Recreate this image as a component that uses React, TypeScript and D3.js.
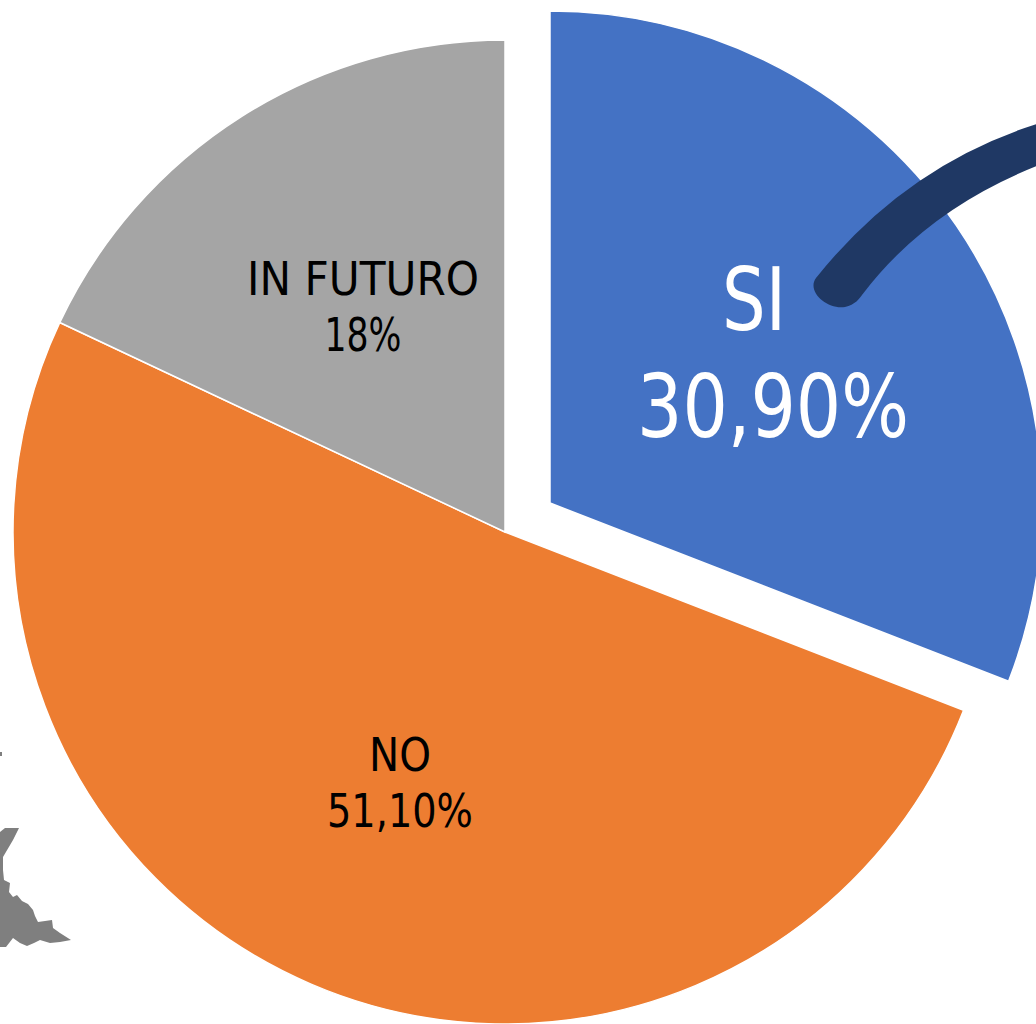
import React from "react";
import * as d3 from "d3";

const categories = ["SI", "NO", "IN FUTURO"];
const seriesValues = [30.9, 51.1, 18];
const valueLabels = ["30,90%", "51,10%", "18%"];
const colors = ["#4472C4", "#ED7D31", "#A5A5A5"];

const W = 1036, H = 1024;
const cx = 505, cy = 532, R = 492;
const explode = [[45, -29], [0, 0], [0, 0]];
const labelStyle = [
  { x: 754, y1: 330, x2: 773, y2: 437, size: 87, w1: 64, w2: 272, fill: "#fff" },
  { x: 400, y1: 771, x2: 400, y2: 827, size: 46, w1: 62, w2: 146, fill: "#000" },
  { x: 363, y1: 295, x2: 363, y2: 351, size: 46, w1: 232, w2: 77, fill: "#000" },
];

const blob: [number, number][] = [[0, 832], [5, 828], [19, 828], [13, 840], [3, 857], [3, 870], [4, 880], [10, 883], [9, 892], [13, 897], [17, 895], [22, 901], [28, 904], [33, 910], [35, 916], [38, 922], [45, 921], [52, 920], [53, 928], [60, 933], [71, 940], [60, 942], [50, 943], [40, 940], [34, 943], [27, 946], [20, 943], [13, 938], [6, 947], [0, 947]];

function armPath() {
  const p = d3.path();
  p.moveTo(1050, 120);
  p.quadraticCurveTo(910, 160, 816, 278);
  p.bezierCurveTo(806, 292, 828, 310, 845, 307);
  p.bezierCurveTo(855, 305, 860, 298, 862, 295);
  p.quadraticCurveTo(930, 205, 1050, 161);
  p.closePath();
  return p.toString();
}

export default function App() {
  const pie = d3.pie<number>().sort(null).startAngle(0).endAngle(2 * Math.PI);
  const arc = d3.arc<d3.PieArcDatum<number>>().innerRadius(0).outerRadius(R);
  const arcs = pie(seriesValues);
  const font = "'DejaVu Sans', sans-serif";
  return (
    <svg width={W} height={H} viewBox={`0 0 ${W} ${H}`} style={{ position: "fixed", left: 0, top: 0, background: "#fff" }}>
      <path d={d3.line()(blob) + "Z"} fill="#7F7F7F" />
      <rect x={0} y={752} width={2} height={4} fill="#7F7F7F" />
      {arcs.map((a, i) => (
        <path key={i} d={arc(a)!} transform={`translate(${cx + explode[i][0]},${cy + explode[i][1]})`} fill={colors[i]} stroke="#fff" strokeWidth={1.5} />
      ))}
      <path d={armPath()} fill="#1F3864" />
      {categories.map((c, i) => {
        const s = labelStyle[i];
        return (
          <g key={c} fontFamily={font} fontSize={s.size} fill={s.fill} textAnchor="middle">
            <text x={s.x} y={s.y1} textLength={s.w1} lengthAdjust="spacingAndGlyphs">{c}</text>
            <text x={s.x2} y={s.y2} textLength={s.w2} lengthAdjust="spacingAndGlyphs">{valueLabels[i]}</text>
          </g>
        );
      })}
    </svg>
  );
}
